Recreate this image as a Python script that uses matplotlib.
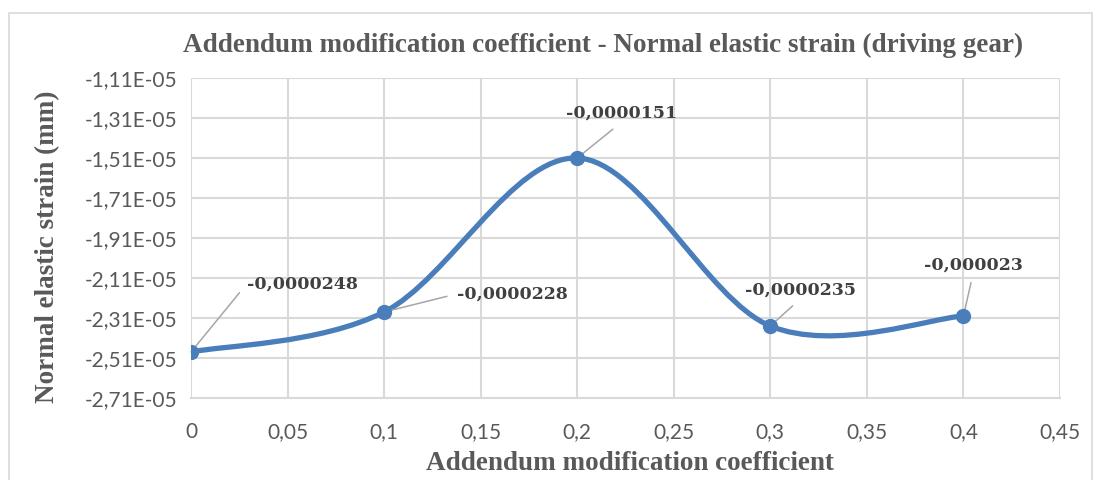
import matplotlib

matplotlib.use("Agg")
import matplotlib.pyplot as plt
from matplotlib.path import Path
from matplotlib.patches import PathPatch, Rectangle
from matplotlib.ticker import FixedLocator, FuncFormatter

# data
x_vals = [0.0, 0.1, 0.2, 0.3, 0.4]
strain = [-0.0000248, -0.0000228, -0.0000151, -0.0000235, -0.000023]
point_labels = ["-0,0000248", "-0,0000228", "-0,0000151", "-0,0000235", "-0,000023"]
# label placement: offset (points) from marker, and where the leader leaves the text
label_offsets = [(80, 49), (92, 13), (32, 32), (22, 26), (7, 37)]
leader_relpos = [(0, 0.5), (0, 0.5), (0.5, 0), (0.5, 0), (0.5, 0)]
x_ticks = [0, 0.05, 0.1, 0.15, 0.2, 0.25, 0.3, 0.35, 0.4, 0.45]
y_ticks = [-2.71e-5, -2.51e-5, -2.31e-5, -2.11e-5, -1.91e-5, -1.71e-5,
           -1.51e-5, -1.31e-5, -1.11e-5]

BLUE = "#4A7EBB"
GRID = "#D9D9D9"
TXT = "#595959"


def smooth_path(xs, ys):
    """Excel-style smoothed line: cubic Bezier with Catmull-Rom control points."""
    pts = list(zip(xs, ys))
    n = len(pts)
    verts = [pts[0]]
    codes = [Path.MOVETO]
    for i in range(n - 1):
        p0 = pts[max(i - 1, 0)]
        p1 = pts[i]
        p2 = pts[i + 1]
        p3 = pts[min(i + 2, n - 1)]
        c1 = (p1[0] + (p2[0] - p0[0]) / 6, p1[1] + (p2[1] - p0[1]) / 6)
        c2 = (p2[0] - (p3[0] - p1[0]) / 6, p2[1] - (p3[1] - p1[1]) / 6)
        verts += [c1, c2, p2]
        codes += [Path.CURVE4] * 3
    return Path(verts, codes)


def comma_fmt(v, _pos):
    return f"{v:g}".replace(".", ",")


def sci_fmt(v, _pos):
    return f"{v:.2E}".replace(".", ",")


fig = plt.figure(figsize=(10.99, 4.8), dpi=100)
fig.patches.append(Rectangle((9 / 1099, -0.1), 1083 / 1099, 1.1 - 13 / 480,
                             transform=fig.transFigure, fill=False,
                             edgecolor=GRID, linewidth=1.2))

ax = fig.add_axes([191 / 1099, 1 - 398 / 480, 869 / 1099, 320 / 480])
ax.set_xlim(0, 0.45)
ax.set_ylim(-2.71e-5, -1.11e-5)
ax.xaxis.set_major_locator(FixedLocator(x_ticks))
ax.yaxis.set_major_locator(FixedLocator(y_ticks))
ax.xaxis.set_major_formatter(FuncFormatter(comma_fmt))
ax.yaxis.set_major_formatter(FuncFormatter(sci_fmt))
ax.grid(True, color=GRID, linewidth=1.5)
ax.set_axisbelow(True)
for side in ["top", "right", "left"]:
    ax.spines[side].set_visible(False)
ax.spines["bottom"].set_color(GRID)
ax.spines["bottom"].set_linewidth(1.5)
ax.tick_params(length=0, labelsize=15, labelcolor=TXT)
ax.tick_params(axis="y", pad=10)
ax.tick_params(axis="x", pad=17)
for lab in ax.get_xticklabels() + ax.get_yticklabels():
    lab.set_family("Lato")

ax.add_patch(PathPatch(smooth_path(x_vals, strain), fill=False,
                       edgecolor=BLUE, linewidth=3.8, capstyle="round",
                       zorder=3))
ax.plot(x_vals, strain, "o", color=BLUE, markersize=10, zorder=4)

for xv, yv, txt, (dx, dy), rp in zip(x_vals, strain, point_labels,
                                     label_offsets, leader_relpos):
    ax.annotate(txt, (xv, yv), xytext=(dx, dy), textcoords="offset points",
                ha="center", va="center", fontsize=12.5, fontweight="bold",
                family="DejaVu Serif", color="#404040",
                arrowprops=dict(arrowstyle="-", color="#A6A6A6", lw=1.1,
                                relpos=rp, shrinkA=5, shrinkB=0))

fig.text(603 / 1099, 1 - 45 / 480,
         "Addendum modification coefficient - Normal elastic strain (driving gear)",
         ha="center", va="center", fontsize=19.5, fontweight="bold",
         family="Liberation Serif", color=TXT)
fig.text(48 / 1099, 1 - 247 / 480, "Normal elastic strain (mm)", rotation=90,
         ha="center", va="center", fontsize=19.5, fontweight="bold",
         family="Liberation Serif", color=TXT)
fig.text(630 / 1099, 1 - 463 / 480, "Addendum modification coefficient",
         ha="center", va="center", fontsize=19.5, fontweight="bold",
         family="Liberation Serif", color=TXT)

fig.savefig("out.png", dpi=100)
